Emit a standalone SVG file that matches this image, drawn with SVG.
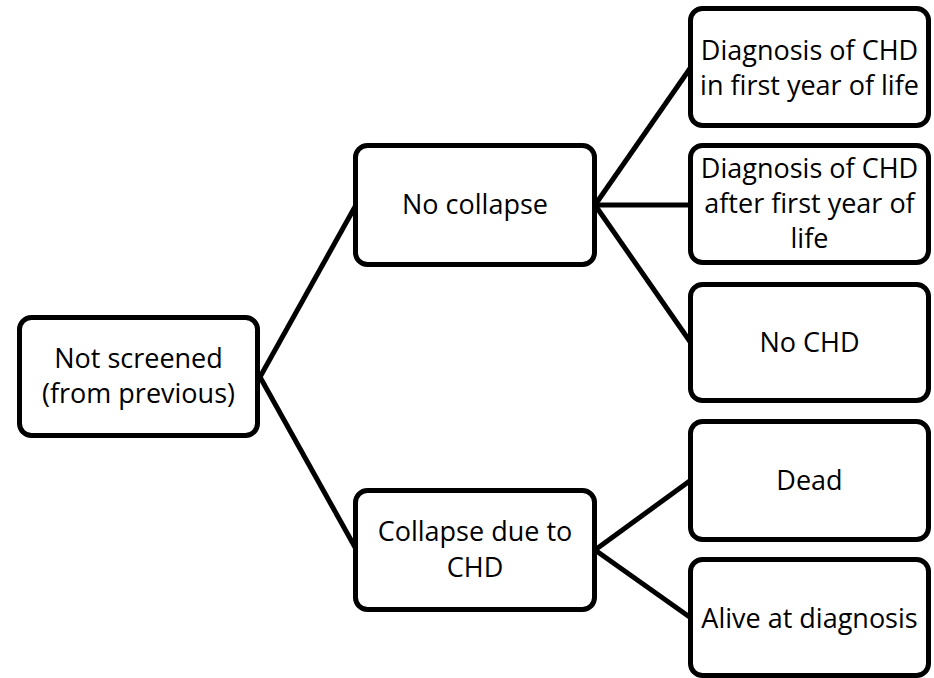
<svg xmlns="http://www.w3.org/2000/svg" width="934" height="678" viewBox="0 0 934 678">
<style>
.box{fill:#fff;stroke:#000;stroke-width:5}
.lbl{font-family:"Open Sans","Noto Sans",sans-serif;font-size:27px;fill:#000;text-anchor:middle}
.conn line{stroke:#000;stroke-width:5;stroke-linecap:butt}
</style>
<rect width="934" height="678" fill="#fff"/>
<g id="connectors" class="conn">
<line x1="260" y1="377" x2="356" y2="205"/>
<line x1="260" y1="377" x2="356" y2="549"/>
<line x1="595" y1="205" x2="691" y2="67"/>
<line x1="595" y1="205" x2="691" y2="205"/>
<line x1="595" y1="205" x2="691" y2="343"/>
<line x1="595" y1="550" x2="691" y2="480"/>
<line x1="595" y1="550" x2="691" y2="618"/>
</g>
<g id="root">
<rect class="box" x="19.5" y="317.5" width="238" height="118" rx="12"/>
<text class="lbl" x="138.5" y="368">Not screened</text>
<text class="lbl" x="138.5" y="403">(from previous)</text>
</g>
<g id="no-collapse">
<rect class="box" x="355.5" y="145.5" width="239" height="119" rx="12"/>
<text class="lbl" x="475" y="214">No collapse</text>
</g>
<g id="collapse">
<rect class="box" x="355.5" y="490.5" width="239" height="119" rx="12"/>
<text class="lbl" x="475" y="541">Collapse due to</text>
<text class="lbl" x="475" y="577">CHD</text>
</g>
<g id="diag-first-year">
<rect class="box" x="690.5" y="8.5" width="238" height="117" rx="12"/>
<text class="lbl" x="809.5" y="60">Diagnosis of CHD</text>
<text class="lbl" x="809.5" y="95">in first year of life</text>
</g>
<g id="diag-after-first-year">
<rect class="box" x="690.5" y="145.5" width="238" height="117" rx="12"/>
<text class="lbl" x="809.5" y="178">Diagnosis of CHD</text>
<text class="lbl" x="809.5" y="213">after first year of</text>
<text class="lbl" x="809.5" y="248">life</text>
</g>
<g id="no-chd">
<rect class="box" x="690.5" y="284.5" width="238" height="116" rx="12"/>
<text class="lbl" x="809.5" y="352">No CHD</text>
</g>
<g id="dead">
<rect class="box" x="690.5" y="421.5" width="238" height="118" rx="12"/>
<text class="lbl" x="809.5" y="490">Dead</text>
</g>
<g id="alive">
<rect class="box" x="690.5" y="559.5" width="238" height="116" rx="12"/>
<text class="lbl" x="809.5" y="628">Alive at diagnosis</text>
</g>
</svg>
